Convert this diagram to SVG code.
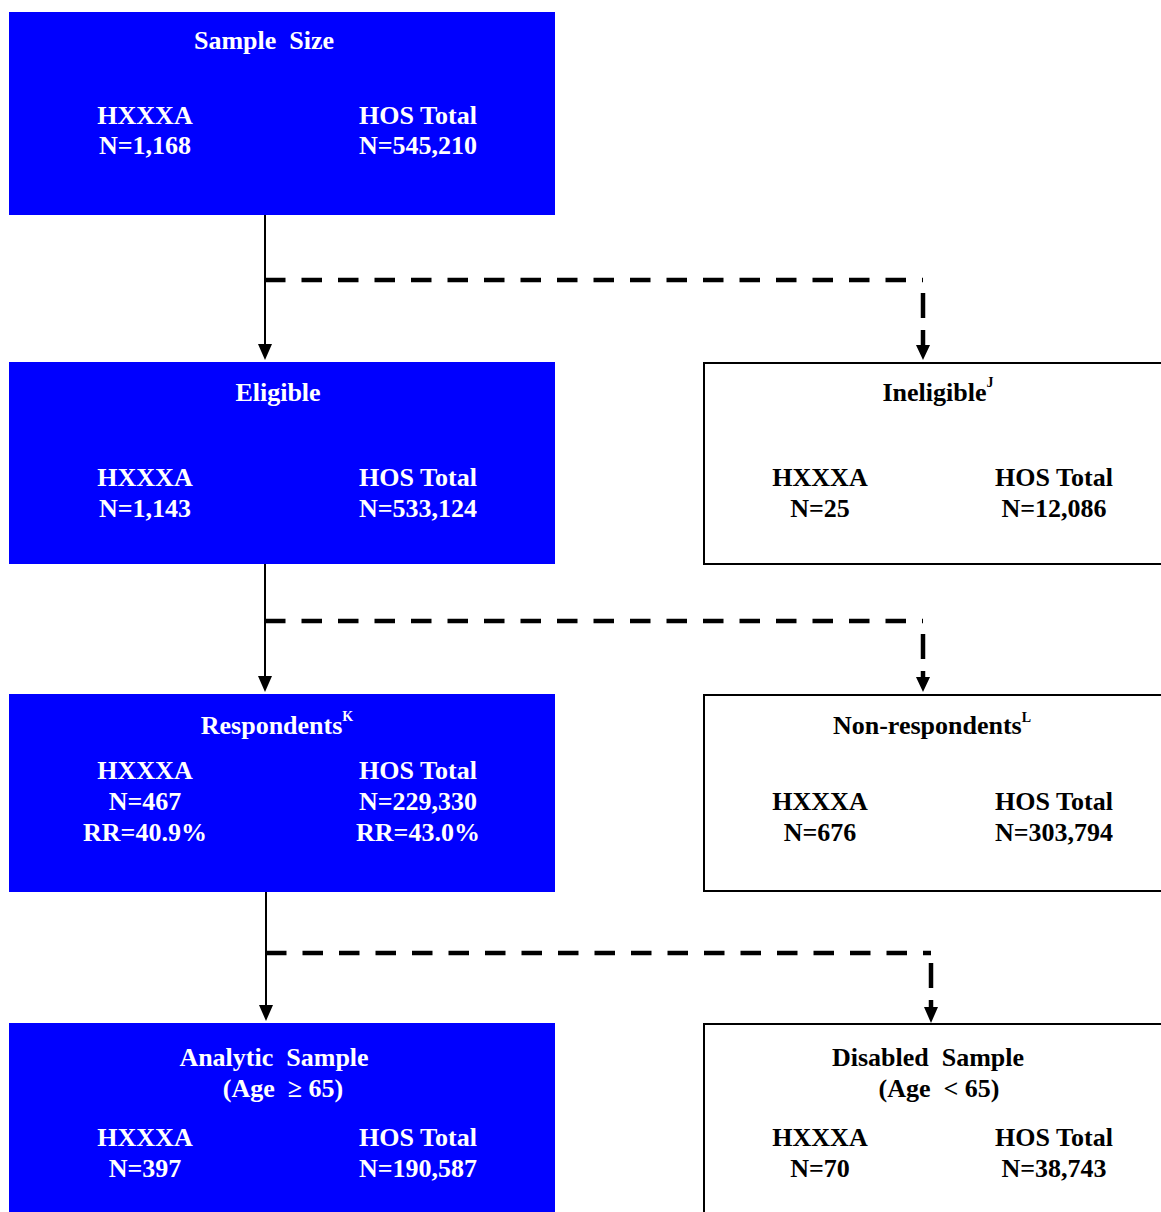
<svg xmlns="http://www.w3.org/2000/svg" width="1161" height="1212" viewBox="0 0 1161 1212">
<style>
.blue{fill:#0000FF;stroke:none}
.white{fill:#FFFFFF;stroke:#000;stroke-width:2}
text{font-family:"Liberation Serif","Times New Roman",serif;font-weight:bold;font-size:26px;text-anchor:middle;white-space:pre}
.w text,.w{fill:#FFFFFF}
.k text,.k{fill:#000000}
.sup{font-size:14px}
.solid{stroke:#000;stroke-width:2;fill:none}
.dash{stroke:#000;stroke-width:4.5;fill:none;stroke-dasharray:20.5 16}
</style>
<rect width="1161" height="1212" fill="#FFFFFF"/>

<g id="connectors">
<line class="solid" x1="265" y1="215" x2="265" y2="345"/>
<path d="M258,344 L272,344 L265,360 Z" fill="#000"/>
<path class="dash" d="M265,280 H923"/>
<line x1="923" y1="293" x2="923" y2="318" stroke="#000" stroke-width="4.5"/>
<line x1="923" y1="330" x2="923" y2="346" stroke="#000" stroke-width="4.5"/>
<path d="M916,345 L930,345 L923,360 Z" fill="#000"/>

<line class="solid" x1="265" y1="564" x2="265" y2="677"/>
<path d="M258,676 L272,676 L265,692 Z" fill="#000"/>
<path class="dash" d="M265,621 H923"/>
<line x1="923" y1="634" x2="923" y2="659" stroke="#000" stroke-width="4.5"/>
<line x1="923" y1="671" x2="923" y2="678" stroke="#000" stroke-width="4.5"/>
<path d="M916,677 L930,677 L923,692 Z" fill="#000"/>

<line class="solid" x1="266" y1="892" x2="266" y2="1006"/>
<path d="M259,1005 L273,1005 L266,1021 Z" fill="#000"/>
<path class="dash" d="M266,953 H931"/>
<line x1="931" y1="963" x2="931" y2="988" stroke="#000" stroke-width="4.5"/>
<line x1="931" y1="1000" x2="931" y2="1008" stroke="#000" stroke-width="4.5"/>
<path d="M924,1007 L938,1007 L931,1023 Z" fill="#000"/>
</g>

<g id="sample-size" class="w">
<rect class="blue" x="9" y="12" width="546" height="203"/>
<text x="264" y="49">Sample  Size</text>
<text x="145" y="124">HXXXA</text>
<text x="145" y="154">N=1,168</text>
<text x="418" y="124">HOS Total</text>
<text x="418" y="154">N=545,210</text>
</g>

<g id="eligible" class="w">
<rect class="blue" x="9" y="362" width="546" height="202"/>
<text x="278" y="401">Eligible</text>
<text x="145" y="486">HXXXA</text>
<text x="145" y="517">N=1,143</text>
<text x="418" y="486">HOS Total</text>
<text x="418" y="517">N=533,124</text>
</g>

<g id="ineligible" class="k">
<rect class="white" x="704" y="363" width="470" height="201"/>
<text x="938" y="401">Ineligible<tspan class="sup" dy="-14">J</tspan></text>
<text x="820" y="486">HXXXA</text>
<text x="820" y="517">N=25</text>
<text x="1054" y="486">HOS Total</text>
<text x="1054" y="517">N=12,086</text>
</g>

<g id="respondents" class="w">
<rect class="blue" x="9" y="694" width="546" height="198"/>
<text x="277" y="734">Respondents<tspan class="sup" dy="-13">K</tspan></text>
<text x="145" y="779">HXXXA</text>
<text x="145" y="810">N=467</text>
<text x="145" y="841">RR=40.9%</text>
<text x="418" y="779">HOS Total</text>
<text x="418" y="810">N=229,330</text>
<text x="418" y="841">RR=43.0%</text>
</g>

<g id="non-respondents" class="k">
<rect class="white" x="704" y="695" width="470" height="196"/>
<text x="932" y="734">Non-respondents<tspan class="sup" dy="-12">L</tspan></text>
<text x="820" y="810">HXXXA</text>
<text x="820" y="841">N=676</text>
<text x="1054" y="810">HOS Total</text>
<text x="1054" y="841">N=303,794</text>
</g>

<g id="analytic-sample" class="w">
<rect class="blue" x="9" y="1023" width="546" height="200"/>
<text x="274" y="1066">Analytic  Sample</text>
<text x="283" y="1097">(Age  ≥ 65)</text>
<text x="145" y="1146">HXXXA</text>
<text x="145" y="1177">N=397</text>
<text x="418" y="1146">HOS Total</text>
<text x="418" y="1177">N=190,587</text>
</g>

<g id="disabled-sample" class="k">
<rect class="white" x="704" y="1024" width="470" height="200"/>
<text x="928" y="1066">Disabled  Sample</text>
<text x="939" y="1097">(Age  &lt; 65)</text>
<text x="820" y="1146">HXXXA</text>
<text x="820" y="1177">N=70</text>
<text x="1054" y="1146">HOS Total</text>
<text x="1054" y="1177">N=38,743</text>
</g>
</svg>
